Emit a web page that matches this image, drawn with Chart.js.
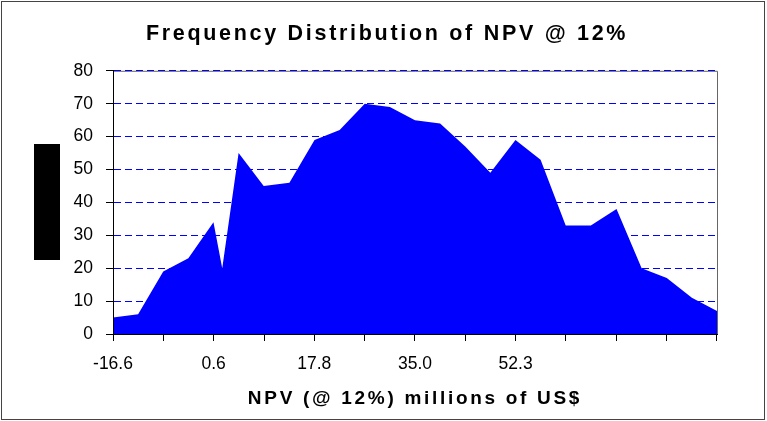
<!DOCTYPE html>
<html>
<head>
<meta charset="utf-8">
<title>Frequency Distribution of NPV @ 12%</title>
<script src="https://cdn.jsdelivr.net/npm/chart.js@4.4.1/dist/chart.umd.min.js"></script>
<style>
  html, body { margin: 0; padding: 0; background: #fff; }
  #wrap { width: 767px; height: 421px; position: relative; }
</style>
</head>
<body>
<div id="wrap"><canvas id="npvChart" width="767" height="421"></canvas></div>
<script>
// NPV bin values (millions of US$) and the count of runs in each bin
const npvBins = [-16.6, -12.3, -8.0, -3.7, 0.6, 2.1, 4.9, 9.2, 13.6, 17.9, 22.2, 26.5, 30.8,
  35.1, 39.4, 43.7, 48.0, 52.3, 56.6, 60.9, 65.2, 69.6, 73.9, 78.2, 82.5, 86.8]
const frequencies = [5, 6, 19, 23, 34, 20, 55, 45, 46, 59, 62, 70, 69,
  65, 64, 57, 49, 59, 53, 33, 33, 38, 20, 17, 11, 7]

// category axis: a tick every other bin, only some of them labelled
const xTickValues = [-16.6, -7.99, 0.63, 9.25, 17.86, 26.48, 35.09, 43.71, 52.32, 60.94, 69.55, 78.17, 86.78]
const xTickLabels = ['-16.6', '', '0.6', '', '17.8', '', '35.0', '', '52.3', '', '', '', '']

const yMin = 0
const yMax = 80
const yStep = 10

const FONT = "'Liberation Sans', Arial, Helvetica, sans-serif"

// white page, outer frame, the dark block on the left and the plot box
const framePlugin = {
  id: 'frame',
  beforeDraw(chart) {
    const { ctx, chartArea } = chart
    ctx.save()
    ctx.fillStyle = '#fff'
    ctx.fillRect(0, 0, chart.width, chart.height)
    ctx.strokeStyle = '#444'
    ctx.lineWidth = 1
    ctx.strokeRect(1.5, 1.5, chart.width - 4, chart.height - 3)
    ctx.fillStyle = '#000'
    ctx.fillRect(34, 144, 26, 116)
    ctx.strokeStyle = '#666'
    ctx.beginPath()
    ctx.moveTo(chartArea.left, chartArea.top + 0.5)
    ctx.lineTo(chartArea.right + 0.5, chartArea.top + 0.5)
    ctx.lineTo(chartArea.right + 0.5, chartArea.bottom)
    ctx.stroke()
    ctx.restore()
    // titles are spaced out like the original
    ctx.letterSpacing = '2.7px'
  },
  beforeDatasetsDraw(chart) {
    chart.ctx.letterSpacing = '0px'
  }
}

const points = npvBins.map((x, i) => ({ x: x, y: frequencies[i] }))

new Chart(document.getElementById('npvChart'), {
  type: 'line',
  data: {
    datasets: [{
      label: 'Frequency',
      data: points,
      fill: 'origin',
      backgroundColor: '#0000ff',
      borderWidth: 0,
      pointRadius: 0,
      tension: 0
    }]
  },
  options: {
    responsive: false,
    animation: false,
    devicePixelRatio: 1,
    layout: { padding: { left: 57, right: 50, top: 0, bottom: 0 } },
    plugins: {
      legend: { display: false },
      tooltip: { enabled: false },
      title: {
        display: true,
        text: 'Frequency Distribution of NPV @ 12%',
        color: '#000',
        font: { family: FONT, size: 21.5, weight: 'bold' },
        padding: { top: 21, bottom: 24 }
      }
    },
    scales: {
      x: {
        type: 'linear',
        min: npvBins[0],
        max: npvBins[npvBins.length - 1],
        afterBuildTicks: scale => {
          scale.ticks = xTickValues.map(v => ({ value: v }))
        },
        afterFit: scale => { scale.height = 87 },
        ticks: {
          autoSkip: false,
          maxRotation: 0,
          color: '#000',
          font: { family: FONT, size: 17.5 },
          padding: 13,
          z: 1,
          callback: (value, index) => xTickLabels[index]
        },
        grid: {
          drawOnChartArea: false,
          color: '#000',
          tickColor: '#000',
          tickLength: 7
        },
        border: { color: '#000', z: 1 },
        title: {
          display: true,
          text: 'NPV (@ 12%) millions of US$',
          color: '#000',
          font: { family: FONT, size: 19, weight: 'bold' },
          padding: { top: 0, bottom: 11 }
        }
      },
      y: {
        min: yMin,
        max: yMax,
        afterFit: scale => { scale.width = 56 },
        ticks: {
          stepSize: yStep,
          color: '#000',
          font: { family: FONT, size: 17.5 },
          padding: 13,
          z: 1
        },
        grid: {
          color: '#0000ff',
          tickColor: '#000',
          tickLength: 7,
          tickBorderDash: []
        },
        border: { color: '#000', dash: [7, 4], z: 1 }
      }
    }
  },
  plugins: [framePlugin]
})
</script>
</body>
</html>
